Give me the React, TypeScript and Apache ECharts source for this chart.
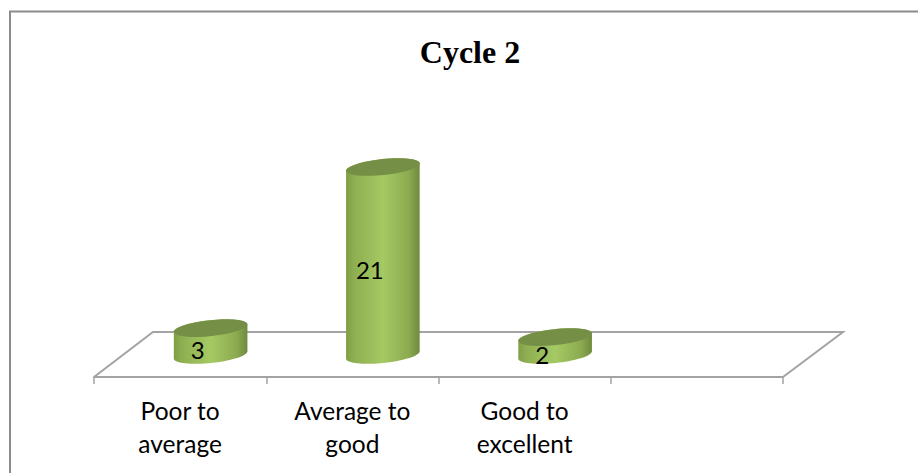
import React, { useEffect, useRef } from "react";
import * as echarts from "echarts";

const titleText = "Cycle 2";
const categories = ["Poor to\naverage", "Average to\ngood", "Good to\nexcellent", ""];
const values: (number | null)[] = [3, 21, 2, null];

const GRID = { left: 94, width: 689, top: 131.25, height: 223.75 };
const RX = 37;
const RY = 8;
const ROT = (-6 * Math.PI) / 180;
const DEPTH_X = 30.5;
const STEPS = 36;

// one point on the tilted rim of a cylinder end, t in radians
const rim = (cx: number, cy: number, t: number): number[] => [
  cx + RX * Math.cos(t) * Math.cos(ROT) - RY * Math.sin(t) * Math.sin(ROT),
  cy + RX * Math.cos(t) * Math.sin(ROT) + RY * Math.sin(t) * Math.cos(ROT),
];

export default function App() {
  const ref = useRef<HTMLDivElement>(null);
  useEffect(() => {
    document.body.style.margin = "0";
    const chart = echarts.init(ref.current!, undefined, { renderer: "svg" });
    chart.setOption({
      animation: false,
      backgroundColor: "#fff",
      title: {
        text: titleText,
        left: 465,
        top: 31,
        textAlign: "center",
        textStyle: { fontFamily: "Liberation Serif", fontWeight: "bold", fontSize: 32, color: "#000" },
      },
      grid: GRID,
      xAxis: {
        type: "category",
        data: categories,
        offset: 22,
        boundaryGap: true,
        axisLine: { show: true, onZero: false, lineStyle: { color: "#a3a3a3", width: 2 } },
        axisTick: { show: true, length: 7, alignWithLabel: false, lineStyle: { color: "#a3a3a3", width: 1.5 } },
        axisLabel: { interval: 0, margin: 17, fontFamily: "Lato", fontSize: 24.5, lineHeight: 33, color: "#000" },
      },
      yAxis: { type: "value", min: 0, max: 25, interval: 5, show: false, splitLine: { show: false } },
      graphic: [
        {
          type: "rect",
          silent: true,
          z: -1,
          shape: { x: 10, y: 11.5, width: 1000, height: 600 },
          style: { fill: "#fff", stroke: "#8c8c8c", lineWidth: 2 },
        },
        {
          type: "polyline",
          silent: true,
          z: 0,
          shape: { points: [[94, 377], [153, 332], [843, 332], [783, 377]] },
          style: { fill: "none", stroke: "#a3a3a3", lineWidth: 2 },
        },
      ],
      series: [
        {
          type: "custom",
          data: values.map((v, i) => [i, v]),
          encode: { x: 0, y: 1 },
          clip: false,
          z: 5,
          renderItem: (_p: any, api: any) => {
            const v = api.value(1);
            if (v == null || Number.isNaN(v)) return null;
            const [px, top] = api.coord([api.value(0), v]);
            const [, base] = api.coord([api.value(0), 0]);
            const cx = px + DEPTH_X;
            const lower: number[][] = [];
            const upper: number[][] = [];
            const cap: number[][] = [];
            for (let i = 0; i <= STEPS; i++) {
              const t = (Math.PI * i) / STEPS;
              lower.push(rim(cx, base, t));
              upper.push(rim(cx, top, t + Math.PI));
              cap.push(rim(cx, top, 2 * t));
            }
            return {
              type: "group",
              children: [
                {
                  type: "polygon",
                  shape: { points: [...lower, ...upper] },
                  style: {
                    fill: new echarts.graphic.LinearGradient(0, 0, 1, 0, [
                      { offset: 0, color: "#7f9f45" },
                      { offset: 0.12, color: "#8fb052" },
                      { offset: 0.5, color: "#a5c963" },
                      { offset: 0.85, color: "#8cab50" },
                      { offset: 1, color: "#6f8a3e" },
                    ]),
                  },
                },
                {
                  type: "polygon",
                  shape: { points: cap },
                  style: { fill: "#768f47" },
                },
                {
                  type: "text",
                  style: {
                    text: String(v),
                    x: cx - 13,
                    y: (top + base) / 2 + 8,
                    align: "center",
                    verticalAlign: "middle",
                    fontFamily: "Lato",
                    fontSize: 24,
                    fill: "#000",
                  },
                },
              ],
            };
          },
        },
      ],
    });
    return () => chart.dispose();
  }, []);
  return <div ref={ref} style={{ width: 918, height: 473 }} />;
}
